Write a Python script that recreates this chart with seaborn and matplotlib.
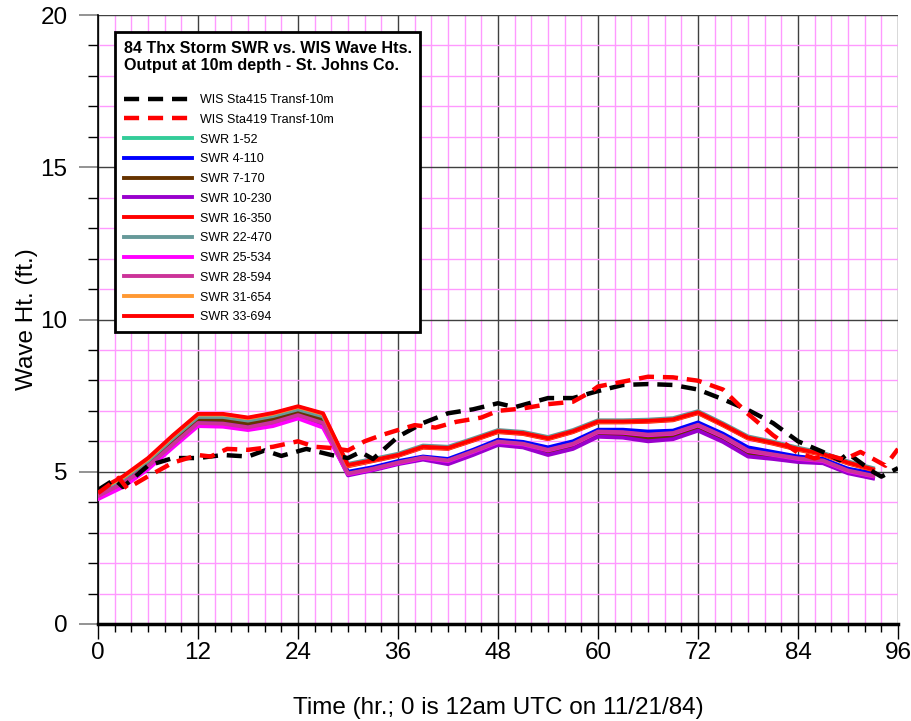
import seaborn as sns
import matplotlib.pyplot as plt
import numpy as np

width, height, my_dpi = 912, 721, 100

# model output times (hr.)
swr_time = [0, 3, 6, 9, 12, 15, 18, 21, 24, 27, 30, 33, 36, 39, 42, 45, 48, 51, 54, 57,
            60, 63, 66, 69, 72, 75, 78, 81, 84, 87, 90, 93]

# SWR wave heights (ft.)
swr_1_52 = [4.28, 4.72, 5.30, 6.05, 6.74, 6.74, 6.62, 6.78, 7.00, 6.76, 4.96, 5.10, 5.30, 5.45, 5.32,
            5.62, 5.95, 5.88, 5.64, 5.85, 6.24, 6.22, 6.12, 6.17, 6.45, 6.08, 5.60, 5.50, 5.38, 5.32, 5.00, 4.84]
swr_4_110 = [4.22, 4.65, 5.22, 5.95, 6.66, 6.64, 6.52, 6.68, 6.92, 6.66, 5.00, 5.15, 5.35, 5.50, 5.42,
             5.72, 6.05, 5.98, 5.80, 6.00, 6.38, 6.38, 6.32, 6.35, 6.62, 6.25, 5.80, 5.65, 5.50, 5.42, 5.10, 4.95]
swr_7_170 = [4.27, 4.70, 5.28, 6.02, 6.72, 6.70, 6.58, 6.74, 6.97, 6.72, 4.94, 5.08, 5.28, 5.43, 5.30,
             5.60, 5.93, 5.85, 5.62, 5.82, 6.22, 6.20, 6.10, 6.14, 6.42, 6.05, 5.57, 5.47, 5.36, 5.30, 4.98, 4.82]
swr_10_230 = [4.18, 4.58, 5.14, 5.86, 6.56, 6.54, 6.42, 6.57, 6.82, 6.54, 4.88, 5.05, 5.25, 5.40, 5.25,
              5.55, 5.88, 5.80, 5.55, 5.75, 6.15, 6.12, 6.00, 6.07, 6.35, 5.98, 5.50, 5.42, 5.32, 5.28, 4.95, 4.78]
swr_16_350 = [4.35, 4.80, 5.40, 6.15, 6.85, 6.86, 6.73, 6.88, 7.10, 6.87, 5.18, 5.35, 5.52, 5.79, 5.75,
              6.02, 6.30, 6.24, 6.07, 6.30, 6.62, 6.62, 6.64, 6.69, 6.92, 6.52, 6.09, 5.92, 5.72, 5.55, 5.27, 5.05]
swr_22_470 = [4.32, 4.76, 5.35, 6.10, 6.80, 6.80, 6.68, 6.83, 7.05, 6.82, 5.26, 5.42, 5.59, 5.86, 5.82,
              6.09, 6.37, 6.31, 6.14, 6.37, 6.69, 6.69, 6.71, 6.76, 6.99, 6.59, 6.16, 5.99, 5.79, 5.62, 5.34, 5.12]
swr_25_534 = [4.10, 4.50, 5.08, 5.80, 6.50, 6.48, 6.37, 6.50, 6.75, 6.45, 4.92, 5.08, 5.28, 5.45, 5.35,
              5.65, 5.97, 5.90, 5.70, 5.90, 6.30, 6.28, 6.20, 6.25, 6.52, 6.15, 5.68, 5.55, 5.42, 5.35, 5.02, 4.85]
swr_28_594 = [4.20, 4.62, 5.18, 5.90, 6.60, 6.58, 6.46, 6.62, 6.86, 6.60, 4.94, 5.10, 5.30, 5.47, 5.37,
              5.67, 5.99, 5.92, 5.72, 5.92, 6.32, 6.30, 6.22, 6.27, 6.54, 6.17, 5.70, 5.57, 5.44, 5.37, 5.04, 4.87]
swr_31_654 = [4.38, 4.82, 5.42, 6.18, 6.88, 6.88, 6.76, 6.91, 7.13, 6.90, 5.20, 5.37, 5.54, 5.81, 5.77,
              6.04, 6.32, 6.26, 6.09, 6.32, 6.64, 6.64, 6.66, 6.71, 6.94, 6.54, 6.11, 5.94, 5.74, 5.57, 5.29, 5.07]
swr_33_694 = [4.40, 4.85, 5.45, 6.20, 6.90, 6.90, 6.78, 6.93, 7.15, 6.92, 5.22, 5.38, 5.55, 5.82, 5.78,
              6.05, 6.33, 6.27, 6.10, 6.33, 6.65, 6.65, 6.67, 6.72, 6.95, 6.55, 6.12, 5.95, 5.75, 5.58, 5.30, 5.08]

# WIS transformed wave heights (ft.)
wis415_time = [0, 2, 3, 6, 9, 12, 15, 18, 20, 22, 25, 28, 30, 31.5, 33, 36, 39, 42, 45, 48, 50, 54, 57,
               60, 63, 66, 69, 72, 75, 78, 81, 84, 87, 89, 90, 93, 94, 96]
wis415 = [4.40, 4.75, 4.50, 5.20, 5.45, 5.45, 5.55, 5.50, 5.70, 5.52, 5.75, 5.55, 5.45, 5.65, 5.42, 6.15,
          6.60, 6.92, 7.05, 7.25, 7.12, 7.42, 7.42, 7.65, 7.85, 7.88, 7.85, 7.70, 7.38, 7.03, 6.60, 6.00,
          5.65, 5.38, 5.60, 5.00, 4.84, 5.12]
wis419_time = [0, 2.5, 3.5, 6, 9, 12, 13.5, 15.5, 18, 21, 24, 26, 28, 30, 32, 34, 36, 38, 40.5, 43, 46,
               48, 51, 54, 57, 59, 60, 63, 66, 69, 72, 75, 78, 81, 84, 86, 87.5, 89.5, 91.5, 94.5, 96]
wis419 = [4.30, 4.80, 4.45, 4.85, 5.30, 5.55, 5.50, 5.75, 5.72, 5.82, 6.00, 5.82, 5.78, 5.70, 6.00, 6.20,
          6.37, 6.53, 6.45, 6.64, 6.78, 7.00, 7.08, 7.22, 7.30, 7.60, 7.80, 7.96, 8.12, 8.10, 7.99, 7.70,
          6.90, 6.20, 5.62, 5.44, 5.55, 5.40, 5.65, 5.20, 5.75]

swr_series = [
    ('SWR 1-52', swr_1_52, '#33CC99'),
    ('SWR 4-110', swr_4_110, '#0000FF'),
    ('SWR 7-170', swr_7_170, '#663300'),
    ('SWR 10-230', swr_10_230, '#9900CC'),
    ('SWR 16-350', swr_16_350, '#FF0000'),
    ('SWR 22-470', swr_22_470, '#669999'),
    ('SWR 25-534', swr_25_534, '#FF00FF'),
    ('SWR 28-594', swr_28_594, '#CC3399'),
    ('SWR 31-654', swr_31_654, '#FF9933'),
    ('SWR 33-694', swr_33_694, '#FF0000'),
]

font = ['Liberation Sans', 'DejaVu Sans']

fig = plt.figure(figsize=(width / my_dpi, height / my_dpi), dpi=my_dpi)
ax = fig.add_axes([98 / width, 1 - 624 / height, 800 / width, 609 / height])

dash = (0, (3.4, 2.0))
sns.lineplot(x=wis415_time, y=wis415, ax=ax, color='black', lw=3.2, linestyle=dash,
             label='WIS Sta415 Transf-10m', zorder=4)
sns.lineplot(x=wis419_time, y=wis419, ax=ax, color='#FF0000', lw=3.2, linestyle=dash,
             label='WIS Sta419 Transf-10m', zorder=4)
for name, vals, col in swr_series:
    sns.lineplot(x=swr_time, y=vals, ax=ax, color=col, lw=2.8, label=name, zorder=3)

ax.set_xlim(0, 96)
ax.set_ylim(0, 20)
ax.set_xticks(np.arange(0, 97, 12))
ax.set_xticks(np.arange(0, 97, 2), minor=True)
ax.set_yticks(np.arange(0, 21, 5))
ax.set_yticks(np.arange(0, 21, 1), minor=True)
ax.set_axisbelow(True)
ax.grid(which='minor', color='#FF99FF', lw=1.0)
ax.grid(which='major', color='#404040', lw=1.0)

for s in ['top', 'right']:
    ax.spines[s].set_visible(False)
ax.spines['left'].set_linewidth(1.2)
ax.spines['bottom'].set_linewidth(2.5)
ax.spines['bottom'].set_zorder(5)

ax.tick_params(axis='x', which='major', direction='out', length=11, width=1, color='black', pad=2)
ax.tick_params(axis='x', which='minor', direction='out', length=6, width=1, color='black')
ax.tick_params(axis='y', which='major', direction='out', length=14, width=1.2, color='#808080', pad=8)
ax.tick_params(axis='y', which='minor', direction='out', length=7, width=1, color='black')
for lab in ax.get_xticklabels() + ax.get_yticklabels():
    lab.set_family(font)
    lab.set_fontsize(17.5)

ax.set_xlabel('Time (hr.; 0 is 12am UTC on 11/21/84)', family=font, fontsize=17.5, labelpad=24)
ax.set_ylabel('Wave Ht. (ft.)', family=font, fontsize=17.5, labelpad=2)

leg = ax.legend(title='84 Thx Storm SWR vs. WIS Wave Hts.\nOutput at 10m depth - St. Johns Co.',
                title_fontproperties={'family': 'Liberation Sans', 'weight': 'bold', 'size': 11.6},
                prop={'family': font, 'size': 9},
                loc='upper left', bbox_to_anchor=(0.021, 0.972), borderaxespad=0,
                fancybox=False, framealpha=1, handlelength=5.5, labelspacing=0.62,
                handletextpad=0.6, borderpad=0.7)
leg._legend_box.align = 'left'
leg._legend_box.sep = 15
leg.get_frame().set_edgecolor('black')
leg.get_frame().set_linewidth(2)
leg.set_zorder(6)

plt.savefig('out.png', dpi=my_dpi)
